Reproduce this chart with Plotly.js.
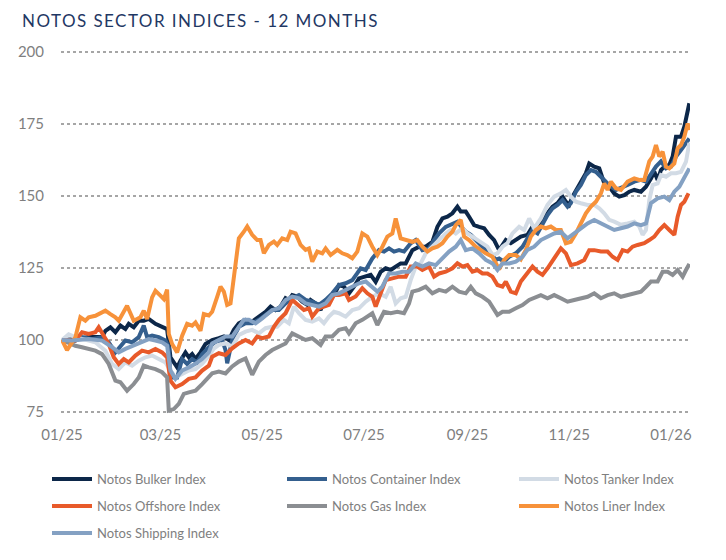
<!DOCTYPE html>
<html><head><meta charset="utf-8">
<script src="https://cdn.plot.ly/plotly-3.0.1.min.js"></script>
<style>
html,body{margin:0;padding:0;background:#fff;}
#chart{width:726px;height:560px;}
.gtitle{letter-spacing:1.45px;}
</style></head><body><div id="chart"></div>
<script>
// x positions are days since 2025-01-01
const tickDates = ['2025-01-01','2025-03-01','2025-05-01','2025-07-01','2025-09-01','2025-11-01','2026-01-01'];
const tickLabels = ['01/25','03/25','05/25','07/25','09/25','11/25','01/26'];
const yTicks = [75,100,125,150,175,200];

const bulkerDays = [0,8,16,24,26,29,32,35,38,40, 43,46,49,52,56,60,63,65,69,71, 74,76,78,80,83,86,90,94,97,100, 103,106,110,114,118,122,125,128,131,134, 136,138,141,144,147,149,152,155,157,160, 163,166,169,172,175,178,181,185,188,191, 194,197,200,203,206,210,214,218,222,225, 228,231,234,237,239,242,244,247,250,253, 256,259,262,264,266,269,272,275,279,282, 285,288,291,294,297,300,302,304,306,309, 311,314,316,319,322,325,328,331,334,337, 340,343,347,350,353,355,357,359,361,364, 366,368,371,373,376];
const bulkerValues = [100,100.3,101,101,103.2,104.4,102.7,105,103.8,105.6, 104.4,106.7,106.7,107.3,105.6,104.4,103.8,94,90.5,92.8, 95.7,94,95.1,93.4,95.7,98.6,100,100.6,101.2,100, 103.5,105.8,107,106.4,108.1,109.8,111.6,110.4,111.6,114.5, 113.9,115.6,115.1,113.3,112.2,113.9,112.7,110.4,113.3,114.5, 115.6,119.1,118.5,116.2,118.5,121.4,122,122.6,120.2,123.7, 124.9,124.3,125.5,126.6,126.6,131.2,132.4,132.4,134.1,139.3, 142.2,142.8,144,146.3,144.6,144.6,142.8,139.9,139.3,138.8, 136.5,134.7,131.2,133,134.7,133.6,134.7,135.9,136.5,139.4, 138.2,141.7,144,146.3,147.5,149.8,148,146.9,149.8,152.7, 155,157.9,161.3,160.2,159.6,154.4,153.2,150.9,149.8,150.3, 151.5,152.1,151.5,153.2,156.1,158.4,155.6,159,160.2,160.8, 163.7,170.6,170.6,174.1,182.2];

const containerDays = [0,6,12,18,24,28,32,35,38,42, 46,49,51,54,58,62,64,65,69,72, 75,78,81,84,88,92,96,98,99,102, 106,110,114,118,122,126,130,134,138,142, 146,150,154,158,162,166,170,174,177,179, 182,186,190,193,196,199,202,205,209,212, 216,220,223,226,230,234,237,240,242,245, 248,251,254,257,260,262,265,268,272,276, 279,282,285,288,291,294,297,300,303,305, 308,311,314,317,320,323,326,329,332,335, 339,343,347,350,353,356,359,362,365,368, 371,374,376];
const containerValues = [100,99.2,101,100.3,101,99.2,95.7,98,99.8,99.2, 101,105,101,101.5,101,99.8,97.5,87,87,93.4, 91.7,93.4,92.2,95.1,97.5,99.4,100,96.5,91.9,100, 104.6,105.8,105.8,107,108.7,110.4,110.4,112.7,114.5,115.6, 113.9,113.3,112.2,113.9,116.2,119.1,119.7,120.8,123.2,124.9, 124.3,128.3,131.2,130.7,131.8,130.7,131.2,130.7,133.6,134.7, 131.2,131.8,134.7,137,139.3,140.5,141.1,138.8,137.6,136.5, 134.7,133,131.2,130.1,127.8,128.3,127.2,128.9,130.1,132.4, 135.3,138.2,137,140.5,143.4,145.7,146.9,148.6,146.3,147.5, 151.5,153.8,157.3,159,158.4,156.7,155,153.2,152.1,152.7, 153.8,155,155.6,155,157.9,160.2,162,159.6,160.2,163.7, 166,168.3,170];

const tankerDays = [0,4,8,12,16,20,26,30,34,38, 42,46,50,54,58,62,65,68,72,76, 80,84,88,91,94,98,102,106,110,114, 118,122,126,129,133,136,139,142,146,150, 154,157,160,163,166,170,174,178,182,186, 190,194,197,200,203,206,209,212,215,218, 222,226,230,233,236,240,243,246,249,252, 255,258,261,264,267,270,274,277,280,283, 287,291,295,299,302,305,308,311,315,319, 322,325,328,331,335,339,343,346,348,350, 352,354,357,359,362,365,368,371,374,376];
const tankerValues = [100,102,101,100.3,99.8,99.2,96.3,91.7,89.9,92.2, 91.1,92.8,94,94.6,93.4,92.2,89.4,87,88.2,89.4, 89.9,91.7,94.5,97,98.3,98.8,97.7,101.7,102.9,103.5, 102.3,104.1,104.6,104.6,107,105.8,111.6,109.3,107,106.4, 107.5,105.8,108.1,109.8,109.3,108.1,110.4,111,113.3,115, 116.2,115,118.5,112.7,114.5,115,120.8,125.5,126.6,130.1, 132.4,134.7,137,138.2,137,138.8,137,135.9,134.7,133.6, 132.4,129.5,130.1,132.4,133.6,137,139.3,138.2,142.2,138.8, 142.2,146.9,149.8,150.9,152.1,149.8,148,147.5,146.9,146.9, 145.7,144,141.7,141.1,140,140.5,141.1,139.4,136.5,138.2, 148.6,153.8,154.4,157.3,156.7,157.9,157.9,158.4,161.9,168.5];

const offshoreDays = [0,8,12,16,20,22,25,28,31,34, 37,40,44,48,52,56,60,63,65,68, 72,76,80,84,88,90,94,98,102,106, 110,114,117,120,124,127,130,134,138,141, 145,148,150,154,157,160,163,166,170,172, 176,180,183,186,188,191,194,198,202,206, 209,213,216,220,223,226,230,234,237,240, 243,246,249,252,255,258,261,264,266,269, 272,275,278,282,285,288,291,294,297,299, 302,305,309,313,316,319,323,327,330,333, 336,339,342,345,349,352,355,358,361,364, 367,369,371,373,375,376];
const offshoreValues = [100,99.8,102.7,102.1,102.7,104.4,101.5,98.6,94,91.7, 93.4,92.2,94.6,96.3,95.7,96.9,95.7,94,85.9,83.6, 84.7,86.5,87,89.4,91.1,94.2,95.4,94.8,97.1,98.8, 100,98.8,101.2,100.6,101.2,104.6,107,109.3,113.9,112.2, 110.4,111,108.1,111,111.6,112.2,115.6,115.6,116.2,113.9, 115.1,118,116.2,115,111.6,116.2,120.8,121.4,122,122, 125.5,125.5,124.3,125.5,122,123.1,123.7,124.9,126.6,125.5, 126,123.7,124.3,123.1,123.1,122,119.1,118.5,120.3,116.8, 116.2,120.3,122.5,125.5,123.7,122.6,124.9,127.8,130.1,131.8, 130.1,126,126.6,127.8,131.2,131.2,130.7,130.7,128.9,127.8, 131.2,130.7,132.4,133,133.6,134.7,135.9,138.2,139.9,138.2, 136.5,142.8,146.9,148,150.3,150];

const gasDays = [0,8,12,16,20,24,28,32,35,39, 43,46,49,52,56,60,63,64,67,70, 73,76,80,84,88,90,94,98,102,106, 110,114,118,122,126,130,134,138,142,146, 150,155,158,162,166,170,172,176,180,183, 186,189,193,197,201,205,208,210,214,218, 222,226,230,234,238,242,245,248,252,256, 259,261,264,268,272,276,280,283,287,291, 295,299,303,307,311,315,319,323,327,331, 335,339,343,347,350,353,357,360,363,366, 369,372,374,376];
const gasValues = [100,98,97.5,96.9,96.3,95.1,91.7,85.9,85.3,82.4, 84.7,87,91.1,90.5,89.9,88.8,87,75.5,76,77.8, 81.3,81.8,82.4,84.7,87,88.4,89,88.4,90.8,92.5, 93.6,87.9,92.5,94.8,96.5,97.7,98.8,102.3,101.2,100, 100.6,98.3,101.2,101.2,103.5,104.1,102.3,105.8,107,108.1, 109.3,105.2,109.8,109.3,109.8,109.3,112.7,116.8,117.4,118.5, 116.2,117.4,116.8,118.5,116.8,116.2,118.5,116.2,115,113.3, 110.4,108.7,109.8,109.8,111,112.1,113.9,114.5,115.6,114.5, 115.6,114.5,113.3,113.9,114.5,115,116.2,114.5,115.6,116.2, 115,115.6,116.2,116.8,118.5,120.3,120.3,123.7,123.7,122.6, 124.3,122,124.3,126.4];

const linerDays = [0,3,8,11,14,16,20,26,29,32, 34,39,43,47,49,51,54,56,59,61, 63,64,66,69,72,75,78,80,83,85, 88,90,93,95,97,99,101,104,106,109, 111,114,117,119,121,124,127,129,132,135, 137,140,143,146,148,150,153,156,158,161, 165,168,171,174,177,180,183,186,189,192, 195,198,200,203,206,210,213,216,219,222, 225,228,231,234,236,239,241,244,248,251, 254,258,262,265,268,272,275,278,281,284, 287,290,293,296,299,302,305,308,311,314, 317,320,323,325,327,329,332,335,339,343, 346,349,352,354,356,358,360,362,364,367, 369,371,373,375,376];
const linerValues = [100,96.5,100.9,107.9,106.7,107.9,108.4,110.2,109,107.9, 106.7,111.9,106.7,107.9,110.2,107.3,114.8,117.1,115.4,114.2, 117.5,102.1,98.6,95.7,101.5,105.6,105,106.1,103.2,109, 108.5,109.8,115,118.5,116.8,112.2,112.7,126.6,135.3,137.6, 139.4,136.5,134.7,134.7,130.1,133,134.2,133,135.3,134.7, 137.6,137,133,131.3,131.8,127.2,130.7,130.1,131.8,129.5, 131.3,130.1,129.5,128.4,130.7,137,135.9,132.4,129.5,132.4, 135.9,137,142.2,135.3,134.7,134.1,134.7,132.4,130.7,131.8, 132.4,133.6,135.9,137.6,139.9,141.7,135.9,134.7,132.4,131.2, 130.1,128.9,124.5,127.8,129.5,129.5,128,131.3,135.9,138.2, 139.4,138.8,139.4,138.2,138.2,133.6,134.1,137,140.5,144, 146.3,148,150.9,154.4,152.1,155,152.7,152.1,155,156.1, 155.6,155.6,162,163.7,167.7,163.7,165.4,160.2,159.6,161.3, 166.6,167.7,170.6,175.2,172.9];

const shippingDays = [0,6,16,24,30,34,38,43,48,52, 56,60,63,65,68,72,76,80,84,88, 90,94,98,102,106,109,112,116,120,126, 130,134,138,142,146,150,154,158,162,166, 170,174,178,182,186,189,192,196,200,204, 208,212,216,220,224,228,232,236,239,242, 246,250,254,258,261,264,268,272,276,279, 283,287,291,295,299,303,307,311,315,319, 323,327,331,335,339,343,347,350,353,357, 361,364,367,370,373,376];
const shippingValues = [100,99.8,100.3,99.8,97.5,95.7,96.9,98,99.2,100.3, 99.8,99.2,98,89.4,86.5,89.4,90.5,91.7,93.4,95.7, 98.8,100,101.2,101.2,104.6,107,107,105.8,107.5,110.4, 111,113.9,115.1,114.5,112.7,112.2,111.6,112.7,115.6,116.2, 117.4,118.5,119.7,120.3,118.5,116.8,118.5,123.1,123.1,123.7, 123.7,126.6,125.5,126.6,126,128.3,130.7,132.4,134.7,131.2, 131.8,130.1,127.8,126.6,124.3,126.6,126.6,127.2,128.9,131.3, 132.4,134.7,135.9,137,137.6,135.3,137,138.8,140.5,141.7, 140.5,139.4,138.2,138.8,139.4,140.5,139.9,140.5,147.5,149.2, 149.8,148.6,151.5,153.2,156.1,159.6];

const seriesNames = ['Notos Bulker Index','Notos Container Index','Notos Tanker Index','Notos Offshore Index','Notos Gas Index','Notos Liner Index','Notos Shipping Index'];
const seriesColors = ['#0c2749','#345f8e','#d2dbe5','#e85a2a','#8b8e92','#f7923a','#84a1c3'];

const seriesDays = [bulkerDays,containerDays,tankerDays,offshoreDays,gasDays,linerDays,shippingDays];
const seriesVals = [bulkerValues,containerValues,tankerValues,offshoreValues,gasValues,linerValues,shippingValues];

const base = Date.UTC(2025,0,1);
function dayToDate(d){
  const dt = new Date(base + d*86400000);
  return dt.toISOString().replace('T',' ').slice(0,19);
}

const FONT = 'Lato, "Open Sans", sans-serif';
const legendIds = ['legend','legend2','legend3','legend4','legend5','legend6','legend7'];
const colX = [47,282,514];
const rowY = [479,506,533];

const traces = seriesNames.map((name,i)=>({
  type:'scatter', mode:'lines', name:name,
  x: seriesDays[i].map(dayToDate), y: seriesVals[i],
  line:{color:seriesColors[i], width:4, shape:'linear'},
  legend: legendIds[i], hoverinfo:'skip'
}));

const layout = {
  width:726, height:560,
  margin:{l:61, r:36, t:50, b:146},
  paper_bgcolor:'#ffffff', plot_bgcolor:'#ffffff',
  title:{text:'NOTOS SECTOR INDICES - 12 MONTHS', font:{family:FONT, size:17, color:'#1f3864'},
    x:22/726, xref:'container', xanchor:'left', y:1-21/560, yref:'container', yanchor:'middle'},
  xaxis:{type:'date', range:[dayToDate(-0.6), dayToDate(376.4)],
    tickvals:tickDates, ticktext:tickLabels, showgrid:false, zeroline:false, showline:false,
    ticks:'', ticklabelstandoff:10, tickfont:{family:FONT, size:15, color:'#7f7f7f'}},
  yaxis:{range:[74.3,200.7], tickvals:yTicks, showgrid:true, gridcolor:'#a6a6a6', griddash:'dot', gridwidth:1.2,
    zeroline:false, showline:false, ticks:'', ticklabelstandoff:16, tickfont:{family:FONT, size:15, color:'#7f7f7f'}},
  showlegend:true
};
legendIds.forEach((id,i)=>{
  const c = i%3, r = Math.floor(i/3);
  layout[id] = {xref:'container', yref:'container', x:colX[c]/726, y:1-rowY[r]/560,
    xanchor:'left', yanchor:'middle', orientation:'h', bgcolor:'rgba(0,0,0,0)',
    font:{family:FONT, size:13, color:'#7f7f7f'}, itemwidth:40};
});

Plotly.newPlot('chart', traces, layout, {displayModeBar:false, staticPlot:true});
</script></body></html>
